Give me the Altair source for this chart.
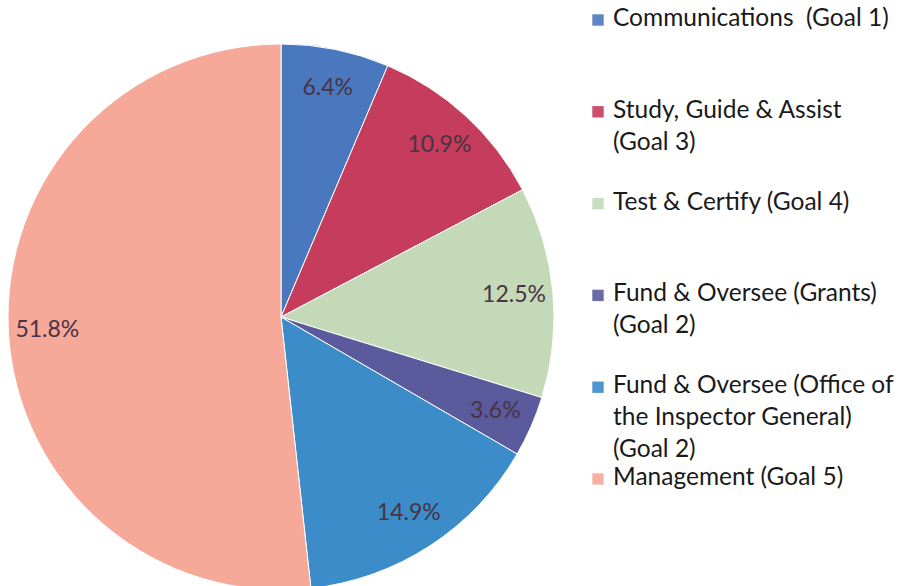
import altair as alt
import pandas as pd

categories = [
    "Communications",
    "Study, Guide & Assist",
    "Test & Certify",
    "Fund & Oversee (Grants)",
    "Fund & Oversee (OIG)",
    "Management",
]
legend_labels = [
    "Communications\u00a0\u00a0(Goal 1)",
    "Study, Guide & Assist\n(Goal 3)",
    "Test & Certify (Goal 4)",
    "Fund & Oversee (Grants)\n(Goal 2)",
    "Fund & Oversee (Office of\nthe Inspector General)\n(Goal 2)",
    "Management (Goal 5)",
]
values = [6.4, 10.9, 12.5, 3.6, 14.9, 51.8]
pct_labels = ["6.4%", "10.9%", "12.5%", "3.6%", "14.9%", "51.8%"]
colors = ["#4a78be", "#c63c5c", "#c4d9b8", "#5b5a9c", "#3b8cc9", "#f6a899"]

df = pd.DataFrame({
    "cat": categories,
    "leg": legend_labels,
    "value": values,
    "pct": pct_labels,
    "order": list(range(len(categories))),
})

color = alt.Color("cat:N", scale=alt.Scale(domain=categories, range=colors), legend=None)

base = alt.Chart(df).encode(
    theta=alt.Theta("value:Q", stack=True),
    order=alt.Order("order:Q"),
    color=color,
)

CX, CY, R = 281, 317, 273

arcs = base.mark_arc(outerRadius=R, stroke="white", strokeWidth=1).encode(
    x=alt.value(CX), y=alt.value(CY)
)

pie_text = base.mark_text(radius=234, fontSize=23, font="Lato", color="#4a3345").encode(
    text="pct:N", x=alt.value(CX), y=alt.value(CY), color=alt.value("#4a3345")
)

ypos = alt.Y("cat:N", sort=categories,
             scale=alt.Scale(type="point", range=[20, 479], padding=0), axis=None)

squares = alt.Chart(df).mark_square(size=130, opacity=0.9).encode(
    x=alt.value(598), y=ypos, color=color
)

leg_text = alt.Chart(df).mark_text(
    align="left", baseline="top", lineBreak="\n", lineHeight=32,
    fontSize=24.5, font="Lato", color="#1a1a1a", dy=-13
).encode(x=alt.value(613), y=ypos, text="leg:N")

chart = alt.layer(arcs, pie_text, squares, leg_text).properties(
    width=900, height=586, padding=0, autosize=alt.AutoSizeParams(type="none")
).configure_view(stroke=None)

chart.save("out.html", embed_options={"renderer": "svg", "actions": False})
